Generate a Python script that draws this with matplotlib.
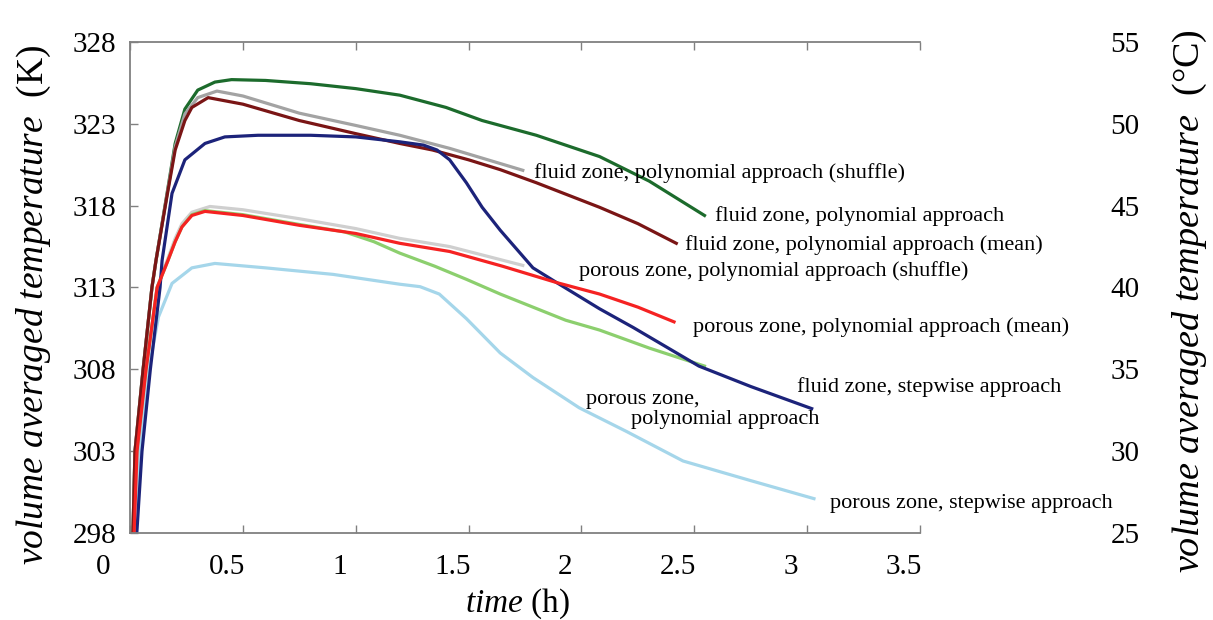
import numpy as np
import matplotlib
matplotlib.use("Agg")
from matplotlib import pyplot as plt
from matplotlib.transforms import ScaledTranslation

plt.rcParams["font.family"] = ["Liberation Serif", "DejaVu Serif"]
plt.rcParams["mathtext.fontset"] = "custom"
plt.rcParams["mathtext.rm"] = "Liberation Serif"
plt.rcParams["mathtext.it"] = "Liberation Serif:italic"

# time (h) / temperature (K)
green_t = [0.013, 0.022, 0.058, 0.097, 0.115, 0.164, 0.2, 0.243, 0.3, 0.376, 0.45, 0.6, 0.8, 1.0, 1.195,
           1.4, 1.56, 1.8, 2.08, 2.3, 2.545]
green_T = [298, 303, 308, 313, 314.65, 318.75, 321.8, 323.9, 325.06, 325.55, 325.7, 325.65, 325.45, 325.15, 324.75,
           324.0, 323.2, 322.3, 321.0, 319.5, 317.4]

gray_t = [0.013, 0.022, 0.058, 0.097, 0.115, 0.164, 0.2, 0.243, 0.3, 0.385, 0.5, 0.75, 1.0, 1.195, 1.416, 1.74]
gray_T = [298, 303, 308, 313, 314.65, 318.7, 321.6, 323.6, 324.6, 325.0, 324.7, 323.65, 322.9, 322.3, 321.5, 320.16]

dred_t = [0.013, 0.022, 0.058, 0.097, 0.115, 0.164, 0.2, 0.243, 0.274, 0.346, 0.5, 0.75, 1.0, 1.195, 1.34, 1.5,
          1.64, 1.8, 2.08, 2.25, 2.42]
dred_T = [298, 303, 308, 313, 314.65, 318.6, 321.4, 323.2, 324.0, 324.6, 324.2, 323.2, 322.4, 321.8, 321.4, 320.8,
          320.2, 319.4, 317.9, 316.9, 315.7]

navy_t = [0.03, 0.053, 0.09, 0.133, 0.142, 0.186, 0.243, 0.332, 0.42, 0.567, 0.8, 1.0, 1.195, 1.3, 1.36, 1.416,
          1.49, 1.56, 1.64, 1.785, 1.89, 2.08, 2.23, 2.52, 2.75, 3.02]
navy_T = [298, 303, 308, 313, 314.65, 318.75, 320.8, 321.8, 322.2, 322.3, 322.3, 322.2, 321.9, 321.7, 321.4, 320.8,
          319.4, 317.9, 316.5, 314.2, 313.3, 311.7, 310.55, 308.2, 306.95, 305.6]

lgray_t = [0.018, 0.031, 0.071, 0.12, 0.168, 0.2, 0.23, 0.274, 0.354, 0.5, 0.75, 1.0, 1.195, 1.416, 1.74]
lgray_T = [298, 303, 308, 313, 314.8, 316.0, 316.9, 317.6, 317.95, 317.75, 317.2, 316.6, 316.0, 315.5, 314.35]

red_t = [0.018, 0.031, 0.071, 0.12, 0.168, 0.2, 0.23, 0.274, 0.332, 0.5, 0.75, 1.0, 1.195, 1.416, 1.65, 1.89,
         2.08, 2.25, 2.41]
red_T = [298, 303, 308, 313, 314.65, 315.8, 316.7, 317.4, 317.65, 317.4, 316.8, 316.3, 315.7, 315.2, 314.3, 313.3,
         312.6, 311.8, 310.9]

lgreen_t = [0.018, 0.031, 0.071, 0.12, 0.168, 0.2, 0.23, 0.274, 0.332, 0.5, 0.75, 0.95, 1.08, 1.195, 1.35, 1.49,
            1.64, 1.93, 2.08, 2.3, 2.545]
lgreen_T = [298, 303, 308, 313, 314.65, 315.8, 316.7, 317.45, 317.7, 317.45, 316.85, 316.4, 315.8, 315.1, 314.3,
            313.5, 312.6, 311.0, 310.4, 309.3, 308.2]

lblue_t = [0.02, 0.045, 0.09, 0.126, 0.186, 0.274, 0.376, 0.6, 0.9, 1.195, 1.285, 1.37, 1.49, 1.64, 1.785, 1.99,
           2.2, 2.45, 2.75, 3.03]
lblue_T = [298, 303, 308.5, 311.2, 313.25, 314.2, 314.47, 314.2, 313.8, 313.2, 313.05, 312.6, 311.1, 309.0, 307.5,
           305.65, 304.2, 302.4, 301.2, 300.1]

labels = ["fluid zone, polynomial approach (shuffle)",
          "fluid zone, polynomial approach",
          "fluid zone, polynomial approach (mean)",
          "porous zone, polynomial approach (shuffle)",
          "porous zone, polynomial approach (mean)",
          "fluid zone, stepwise approach",
          "porous zone,\n        polynomial approach",
          "porous zone, stepwise approach"]
label_x = [1.79, 2.59, 2.46, 1.99, 2.495, 2.955, 2.02, 3.1]
label_y = [320.0, 317.35, 315.6, 314.0, 310.55, 306.9, 305.55, 299.8]

x_ticks = [0, 0.5, 1, 1.5, 2, 2.5, 3, 3.5]
x_tick_labels = ["0", "0.5", "1", "1.5", "2", "2.5", "3", "3.5"]
k_ticks = [298, 303, 308, 313, 318, 323, 328]
c_ticks = [25, 30, 35, 40, 45, 50, 55]

fig = plt.figure(figsize=(12.13, 6.2), dpi=100)
ax = fig.add_axes([0.1072, 0.1403, 0.6513, 0.792])

lw = 2.3
ax.plot(lgray_t, lgray_T, color="#cfcfcf", lw=lw)
ax.plot(lgreen_t, lgreen_T, color="#8ccf6e", lw=lw)
ax.plot(lblue_t, lblue_T, color="#a5d6ea", lw=lw)
ax.plot(green_t, green_T, color="#1c6b2c", lw=lw)
ax.plot(gray_t, gray_T, color="#a3a3a3", lw=lw)
ax.plot(dred_t, dred_T, color="#7a1515", lw=lw)
ax.plot(navy_t, navy_T, color="#1c237a", lw=lw)
ax.plot(red_t, red_T, color="#f52222", lw=lw)

for txt, tx, ty in zip(labels, label_x, label_y):
    ax.text(tx, ty, txt, fontsize=16, va="center", ha="left", linespacing=1.1)

ax.set_xlim(0, 3.5)
ax.set_ylim(298, 328)
ax.set_xticks(x_ticks)
ax.set_xticklabels(x_tick_labels)
ax.set_yticks(k_ticks)
ax.tick_params(axis="both", direction="in", length=6, width=1, color="#808080",
               labelsize=21, top=True)
ax.tick_params(axis="x", pad=15)
ax.tick_params(axis="y", pad=10)
for i, lab in enumerate(ax.get_xticklabels()):
    shift = -0.27 if i == 0 else -0.16
    lab.set_transform(lab.get_transform() + ScaledTranslation(shift, 0, fig.dpi_scale_trans))
for side in ["left", "top", "bottom"]:
    ax.spines[side].set_color("#808080")
    ax.spines[side].set_linewidth(1.3)
ax.spines["right"].set_visible(False)

ax.set_xlabel(r"$time$ (h)", fontsize=24)
ax.xaxis.set_label_coords(0.49, -0.108)
ax.set_ylabel(r"$volume\ averaged\ temperature$  (K)", fontsize=27)
ax.yaxis.set_label_coords(-0.097, 0.464)

ax2 = ax.twinx()
ax2.set_ylim(25, 55)
ax2.set_yticks(c_ticks)
ax2.tick_params(axis="y", length=0, pad=137, labelsize=21)
for side in ["left", "top", "bottom", "right"]:
    ax2.spines[side].set_visible(False)
ax2.set_ylabel(r"$volume\ averaged\ temperature$  (°C)", fontsize=27.5)
ax2.yaxis.set_label_coords(1.317, 0.472)

fig.savefig("out.png", dpi=100)
